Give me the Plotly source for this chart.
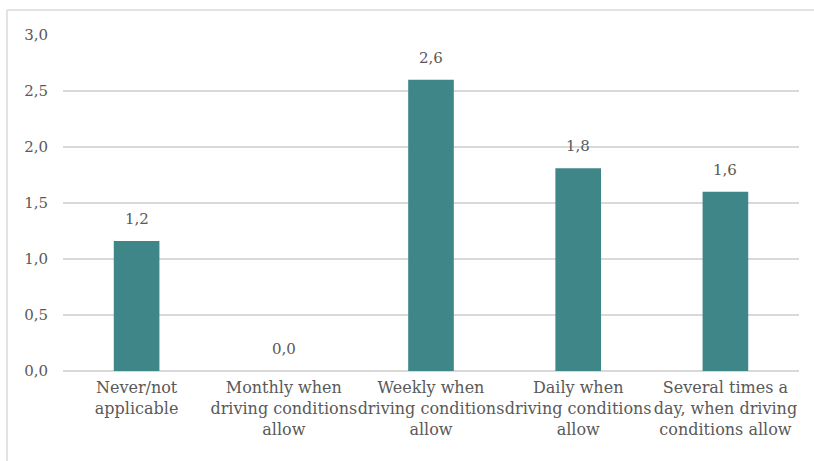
import plotly.graph_objects as go

categories = [
    "Never/not<br>applicable",
    "Monthly when<br>driving conditions<br>allow",
    "Weekly when<br>driving conditions<br>allow",
    "Daily when<br>driving conditions<br>allow",
    "Several times a<br>day, when driving<br>conditions allow",
]
values = [1.16, 0.0, 2.6, 1.81, 1.6]
y_ticks = [0.0, 0.5, 1.0, 1.5, 2.0, 2.5, 3.0]
y_tick_text = [f"{v:.1f}".replace(".", ",") for v in y_ticks]

FONT = "DejaVu Serif"
TEXT_COLOR = "#595959"
BAR_COLOR = "#3F8689"
GRID_COLOR = "#D9D9D9"

fig = go.Figure()
fig.add_trace(go.Bar(
    x=categories,
    y=values,
    marker=dict(color=BAR_COLOR, line=dict(width=0)),
    hoverinfo="skip",
))

# value labels above each bar, one decimal with a comma separator
for cat, val in zip(categories, values):
    fig.add_annotation(
        x=cat, y=val, xref="x", yref="y",
        text=f"{val:.1f}".replace(".", ","),
        showarrow=False, yanchor="middle", yshift=22,
        font=dict(family=FONT, size=15, color=TEXT_COLOR),
    )

# thin frame along the top and left of the chart area
frame = dict(color=GRID_COLOR, width=1.5)
x0, y0 = -0.0761, 1.0744
fig.add_shape(type="line", xref="paper", yref="paper",
              x0=x0, x1=1.03, y0=y0, y1=y0, line=frame)
fig.add_shape(type="line", xref="paper", yref="paper",
              x0=x0, x1=x0, y0=y0, y1=-0.3, line=frame)

fig.update_layout(
    width=814, height=461,
    margin=dict(l=63, r=15, t=35, b=90),
    paper_bgcolor="white", plot_bgcolor="white",
    bargap=0.69,
    showlegend=False,
    font=dict(family=FONT, size=15, color=TEXT_COLOR),
)
fig.update_xaxes(
    showgrid=False, showline=False, zeroline=False,
    tickfont=dict(family=FONT, size=16, color=TEXT_COLOR),
    tickangle=0, automargin=False,
    ticks="", ticklabelstandoff=5, fixedrange=True,
)
fig.update_yaxes(
    range=[0, 3.0],
    tickvals=y_ticks, ticktext=y_tick_text,
    showgrid=True, gridcolor=GRID_COLOR, gridwidth=1.5,
    zeroline=True, zerolinecolor=GRID_COLOR, zerolinewidth=1.5,
    showline=False, ticks="", automargin=False,
    ticklabelstandoff=14,
    tickfont=dict(family=FONT, size=15, color=TEXT_COLOR),
    fixedrange=True,
)

fig.write_html("out.html")
